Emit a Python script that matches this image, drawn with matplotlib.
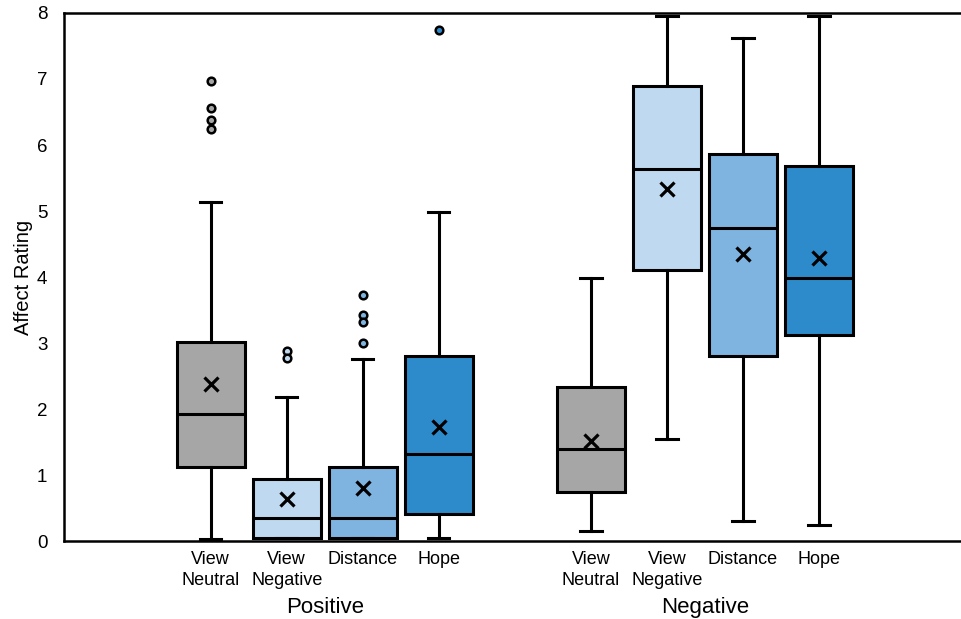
import matplotlib.pyplot as plt
import matplotlib.transforms as mtransforms

plt.rcParams['font.family'] = ['Liberation Sans', 'DejaVu Sans']

# box statistics (Positive group, then Negative group)
labels = ['View\nNeutral', 'View\nNegative', 'Distance', 'Hope',
          'View\nNeutral', 'View\nNegative', 'Distance', 'Hope']
groups = ['Positive', 'Negative']
whislo = [0.03, 0.04, 0.04, 0.04, 0.15, 1.55, 0.30, 0.24]
q1 = [1.12, 0.04, 0.04, 0.41, 0.74, 4.10, 2.80, 3.12]
med = [1.93, 0.35, 0.35, 1.32, 1.40, 5.63, 4.74, 3.99]
q3 = [3.02, 0.94, 1.12, 2.81, 2.33, 6.90, 5.86, 5.68]
whishi = [5.14, 2.18, 2.76, 4.99, 3.99, 7.95, 7.62, 7.95]
means = [2.38, 0.64, 0.81, 1.73, 1.52, 5.33, 4.35, 4.29]
fliers = [[6.97, 6.56, 6.38, 6.25], [2.88, 2.78], [3.72, 3.43, 3.32, 3.00], [7.74],
          [], [], [], []]

colors = ['#a6a6a6', '#bfdaf0', '#7fb3e0', '#2e8bcb'] * 2
positions = [1, 2, 3, 4, 6, 7, 8, 9]

stats = []
for i in range(len(labels)):
    stats.append(dict(whislo=whislo[i], q1=q1[i], med=med[i], q3=q3[i],
                      whishi=whishi[i], mean=means[i], fliers=fliers[i]))

fig = plt.figure(figsize=(9.62, 6.19), dpi=100)
ax = fig.add_axes([0.0665, 0.126, 0.9335, 0.853])

lw = 2.2
bp = ax.bxp(stats, positions=positions, widths=0.9, patch_artist=True,
            showmeans=True, capwidths=0.28,
            boxprops=dict(linewidth=lw, edgecolor='black'),
            whiskerprops=dict(linewidth=lw, color='black'),
            capprops=dict(linewidth=lw, color='black'),
            medianprops=dict(linewidth=lw, color='black'),
            meanprops=dict(marker='x', markeredgecolor='black', markersize=10,
                           markeredgewidth=2.3),
            flierprops=dict(marker='o', markersize=5.5, markeredgewidth=1.8,
                            markeredgecolor='black'))
for patch, c in zip(bp['boxes'], colors):
    patch.set_facecolor(c)
for fl, c in zip(bp['fliers'], colors):
    fl.set_markerfacecolor(c)

ax.set_xlim(-0.93, 10.88)
ax.set_ylim(0, 8)
ax.set_yticks(range(0, 9))
ax.set_xticks(positions)
ax.set_xticklabels(labels, fontsize=13, linespacing=1.3)
ax.tick_params(axis='y', length=0, pad=12, labelsize=13.5)
ax.tick_params(axis='x', length=0, pad=7)
ax.set_ylabel('Affect Rating', fontsize=14.5, labelpad=3)

ax.spines['right'].set_visible(False)
for s in ['left', 'bottom', 'top']:
    ax.spines[s].set_linewidth(1.8)

trans = mtransforms.blended_transform_factory(ax.transData, fig.transFigure)
ax.text(2.5, 0.019, groups[0], transform=trans, ha='center', va='center', fontsize=16)
ax.text(7.5, 0.019, groups[1], transform=trans, ha='center', va='center', fontsize=16)

fig.savefig('out.png', dpi=100)
